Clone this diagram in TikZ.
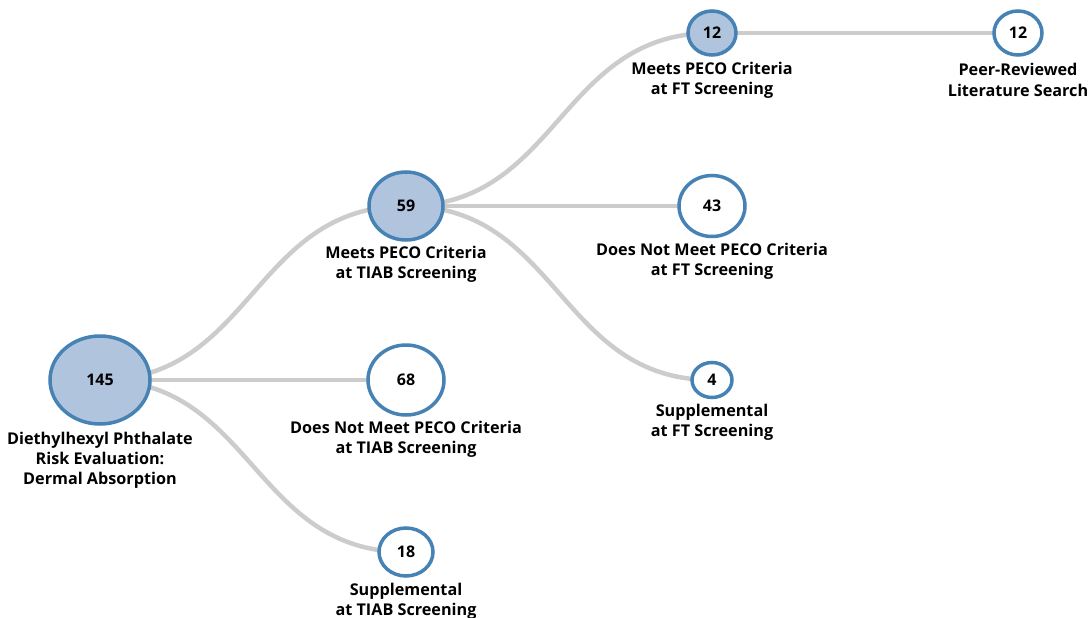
\documentclass[tikz,border=0pt]{standalone}
\usepackage{fontspec}
\setmainfont{Open Sans}
\usetikzlibrary{shapes.geometric}
\definecolor{nodefill}{HTML}{B0C4DE}
\definecolor{nodeedge}{HTML}{4682B4}
\definecolor{linkgray}{HTML}{CCCCCC}
\tikzset{
  circ/.style={ellipse, draw=nodeedge, line width=3.5pt, inner sep=0pt, font=\bfseries\fontsize{16}{17}\selectfont},
  full/.style={circ, fill=nodefill},
  empty/.style={circ, fill=white},
  lbl/.style={align=center, font=\bfseries\fontsize{16.2}{20.2}\selectfont, inner sep=0pt},
  link/.style={draw=linkgray, line width=4.5pt}
}
\begin{document}
\begin{tikzpicture}[x=1pt,y=-1pt]
\useasboundingbox (0,0) rectangle (1090,618);
% nodes positions (coordinates)
\coordinate (c0) at (100,380);
\coordinate (c1) at (406,206);
\coordinate (c2) at (406,380);
\coordinate (c3) at (406,552);
\coordinate (c4) at (712,33);
\coordinate (c5) at (712,206);
\coordinate (c6) at (712,380);
\coordinate (c7) at (1018,33);
% links
\draw[link] (c0) .. controls (253,380) and (253,206) .. (c1);
\draw[link] (c0) -- (c2);
\draw[link] (c0) .. controls (253,380) and (253,552) .. (c3);
\draw[link] (c1) .. controls (559,206) and (559,33) .. (c4);
\draw[link] (c1) -- (c5);
\draw[link] (c1) .. controls (559,206) and (559,380) .. (c6);
\draw[link] (c4) -- (c7);
% nodes
\node[full, minimum width=100pt, minimum height=88pt] (n0) at (c0) {145};
\node[full, minimum width=74pt, minimum height=68pt] (n1) at (c1) {59};
\node[empty, minimum width=76pt, minimum height=70pt] (n2) at (c2) {68};
\node[empty, minimum width=54pt, minimum height=48pt] (n3) at (c3) {18};
\node[full, minimum width=48pt, minimum height=44pt] (n4) at (c4) {12};
\node[empty, minimum width=66pt, minimum height=61pt] (n5) at (c5) {43};
\node[empty, minimum width=40pt, minimum height=35pt] (n6) at (c6) {4};
\node[empty, minimum width=48pt, minimum height=44pt] (n7) at (c7) {12};
% labels
\node[lbl] (l0) at (100,460.5) {Diethylhexyl Phthalate\\Risk Evaluation:\\Dermal Absorption};
\node[lbl] (l1) at (406,264.5) {Meets PECO Criteria\\at TIAB Screening};
\node[lbl] (l2) at (406,439) {Does Not Meet PECO Criteria\\at TIAB Screening};
\node[lbl] (l3) at (406,601.5) {Supplemental\\at TIAB Screening};
\node[lbl] (l4) at (712,80) {Meets PECO Criteria\\at FT Screening};
\node[lbl] (l5) at (712,261.5) {Does Not Meet PECO Criteria\\at FT Screening};
\node[lbl] (l6) at (712,422.5) {Supplemental\\at FT Screening};
\node[lbl] (l7) at (1018,80) {Peer-Reviewed\\Literature Search};
\end{tikzpicture}
\end{document}
